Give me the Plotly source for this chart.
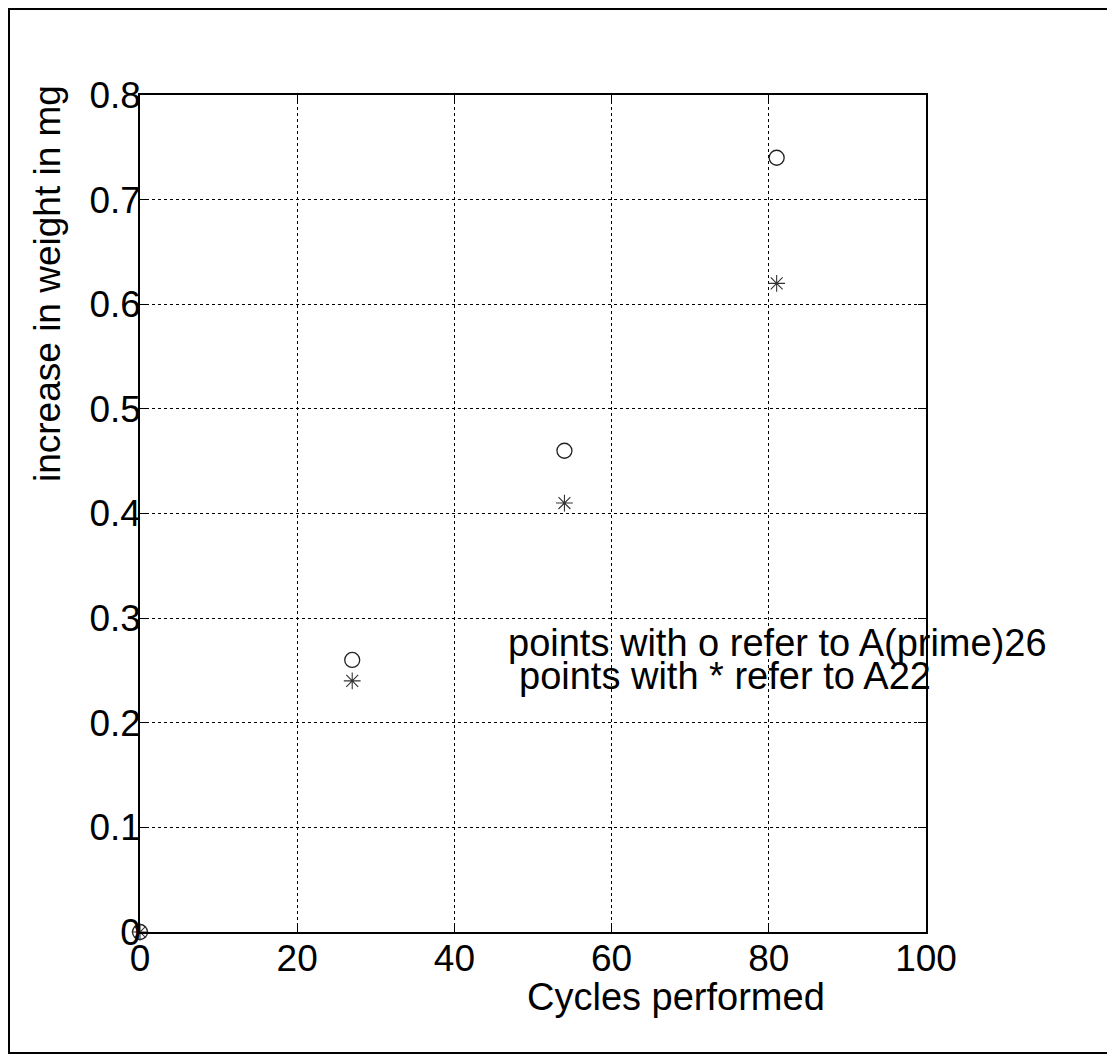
import plotly.graph_objects as go

cycles = [0, 27, 54, 81]
a_prime26 = [0, 0.26, 0.46, 0.74]   # points with o
a22 = [0, 0.24, 0.41, 0.62]         # points with *
x_ticks = [0, 20, 40, 60, 80, 100]
y_ticks = [0, 0.1, 0.2, 0.3, 0.4, 0.5, 0.6, 0.7, 0.8]
y_tick_text = ["0", "0.1", "0.2", "0.3", "0.4", "0.5", "0.6", "0.7", "0.8"]

FONT = "Liberation Sans, Arial, sans-serif"
FS = 37
FS_NOTE = 38

OFF = 8  # page body margin
L, R, T, B = 140 - OFF, 926 - OFF, 95 - OFF, 932 - OFF
W, H = 1115 - OFF, 1057 - OFF
pw, ph = R - L, B - T


def px_x(x):
    return (x - OFF - L) / pw


def px_y(y):
    return (B - (y - OFF)) / ph


fig = go.Figure()
fig.add_trace(go.Scatter(x=cycles, y=a_prime26, mode="markers",
                         marker=dict(symbol="circle-open", size=15, color="#222",
                                     line=dict(width=1.3, color="#222")),
                         showlegend=False, cliponaxis=False))
fig.add_trace(go.Scatter(x=cycles, y=a22, mode="markers",
                         marker=dict(symbol="asterisk-open", size=14, color="#333",
                                     line=dict(width=1.1, color="#333")),
                         showlegend=False, cliponaxis=False))

fig.update_layout(
    width=W, height=H,
    margin=dict(l=L, r=W - R, t=T, b=H - B, pad=0),
    paper_bgcolor="white", plot_bgcolor="white",
    font=dict(family=FONT, size=FS, color="black"),
    xaxis=dict(range=[0, 100], tickvals=x_ticks, ticks="inside", ticklen=8,
               tickcolor="black", showline=True, linecolor="black", linewidth=1.5,
               mirror="ticks", showgrid=True, gridcolor="black", griddash="dot",
               gridwidth=1, zeroline=False, tickfont=dict(size=FS, family=FONT),
               ticklabelstandoff=-7),
    yaxis=dict(range=[0, 0.8], tickvals=y_ticks, ticktext=y_tick_text,
               ticks="inside", ticklen=8,
               tickcolor="black", showline=True, linecolor="black", linewidth=1.5,
               mirror="ticks", showgrid=True, gridcolor="black", griddash="dot",
               gridwidth=1, zeroline=False, tickfont=dict(size=FS, family=FONT),
               ticklabelstandoff=-10),
    shapes=[dict(type="rect", xref="paper", yref="paper",
                 x0=px_x(9), x1=px_x(1110),
                 y0=px_y(1053), y1=px_y(9),
                 line=dict(color="black", width=2), fillcolor="rgba(0,0,0,0)",
                 layer="below")],
    annotations=[
        dict(text="Cycles performed", xref="paper", yref="paper",
             x=px_x(676), y=px_y(997), showarrow=False,
             xanchor="center", yanchor="middle", font=dict(size=38, family=FONT)),
        dict(text="increase in weight in mg", xref="paper", yref="paper",
             x=px_x(47), y=px_y(284), showarrow=False, textangle=-90,
             xanchor="center", yanchor="middle", font=dict(size=FS, family=FONT)),
        dict(text="points with o refer to A(prime)26", xref="x", yref="y",
             x=px_x(506) * 100, y=px_y(643) * 0.8, showarrow=False,
             xanchor="left", yanchor="middle", font=dict(size=FS_NOTE, family=FONT)),
        dict(text="points with * refer to A22", xref="x", yref="y",
             x=px_x(517) * 100, y=px_y(676) * 0.8, showarrow=False,
             xanchor="left", yanchor="middle", font=dict(size=FS_NOTE, family=FONT)),
    ],
)

fig.write_html("out.html")
